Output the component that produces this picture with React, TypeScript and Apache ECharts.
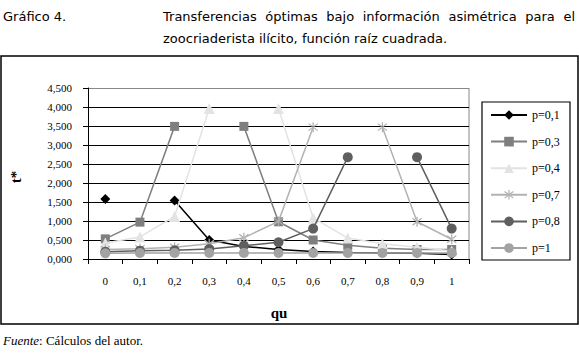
import React, { useEffect, useRef } from 'react';
import * as echarts from 'echarts';

const categories = ['0', '0,1', '0,2', '0,3', '0,4', '0,5', '0,6', '0,7', '0,8', '0,9', '1'];
const seriesNames = ['p=0,1', 'p=0,3', 'p=0,4', 'p=0,7', 'p=0,8', 'p=1'];
const p01 = [1.58, null, 1.54, 0.5, 0.33, 0.25, 0.2, 0.17, 0.16, 0.15, 0.12];
const p03 = [0.53, 0.97, 3.49, null, 3.49, 0.98, 0.5, 0.36, 0.28, 0.25, 0.25];
const p04 = [0.42, 0.58, 1.12, 3.96, null, 3.96, 1.08, 0.55, 0.4, 0.31, 0.21];
const p07 = [0.25, 0.27, 0.31, 0.4, 0.56, 0.99, 3.47, null, 3.47, 0.98, 0.52];
const p08 = [0.19, 0.22, 0.23, 0.26, 0.35, 0.44, 0.8, 2.68, null, 2.68, 0.8];
const p1 = [0.15, 0.16, 0.16, 0.16, 0.16, 0.16, 0.16, 0.16, 0.16, 0.16, 0.16];
const yTicks = [0, 0.5, 1, 1.5, 2, 2.5, 3, 3.5, 4, 4.5];

const titleLabel = 'Gráfico 4.';
const titleLine1 = 'Transferencias óptimas bajo información asimétrica para el';
const titleLine2 = 'zoocriaderista ilícito, función raíz cuadrada.';

const STAR =
  'path://M-0.6,-5L0.6,-5L0.6,5L-0.6,5Z' +
  'M-4.68,-3.03L3.92,3.97L4.68,3.03L-3.92,-3.97Z' +
  'M-3.92,3.97L4.68,-3.03L3.92,-3.97L-4.68,3.03Z';

export default function App() {
  const ref = useRef<HTMLDivElement>(null);
  useEffect(() => {
    if (!ref.current) return;
    const chart = echarts.init(ref.current, null, { renderer: 'svg' });
    const titleFont = '"DejaVu Sans", sans-serif';
    const fs = 13;
    const X0 = 163;
    const X1 = 575;
    const ctx = document.createElement('canvas').getContext('2d')!;
    ctx.font = `${fs}px ${titleFont}`;
    const words = titleLine1.split(' ');
    const widths = words.map((w) => ctx.measureText(w).width);
    const total = widths.reduce((a, b) => a + b, 0);
    const gap = (X1 - X0 - total) / (words.length - 1);
    let cx = X0;
    const wordEls: any[] = words.map((w, i) => {
      const el = {
        type: 'text',
        x: cx,
        y: 16,
        style: { text: w, font: `${fs}px ${titleFont}`, fill: '#000', textVerticalAlign: 'middle' },
      };
      cx += widths[i] + gap;
      return el;
    });

    const serif = '"Liberation Serif", "Times New Roman", serif';
    const colors = ['#000000', '#7f7f7f', '#e3e3e3', '#b2b2b2', '#5f5f5f', '#a3a3a3'];
    const symbols = ['diamond', 'rect', 'triangle', STAR, 'circle', 'circle'];
    const sizes = [10, 9, 11, 10, 10, 10];
    const datasets = [p01, p03, p04, p07, p08, p1];

    const splitColors = yTicks.map((_, i) => (i === yTicks.length - 1 ? '#888888' : '#000000'));

    chart.setOption({
      animation: false,
      grid: { left: 88, right: 110, top: 88, bottom: 98 },
      xAxis: {
        type: 'category',
        data: categories,
        boundaryGap: true,
        axisLine: { lineStyle: { color: '#000', width: 1 } },
        axisTick: { show: true, length: 5, lineStyle: { color: '#000' } },
        axisLabel: { fontFamily: serif, fontSize: 11, color: '#000', margin: 16 },
      },
      yAxis: {
        type: 'value',
        min: 0,
        max: 4.5,
        interval: 0.5,
        axisLine: { show: true, lineStyle: { color: '#000', width: 1 } },
        axisTick: { show: true, length: 5, lineStyle: { color: '#000' } },
        axisLabel: {
          fontFamily: serif,
          fontSize: 11,
          color: '#000',
          margin: 16,
          formatter: (v: number) => v.toFixed(3).replace('.', ','),
        },
        splitLine: { show: true, lineStyle: { color: splitColors, width: 1 } },
      },
      legend: {
        orient: 'vertical',
        left: 490,
        top: 109,
        padding: 0,
        itemWidth: 36,
        itemHeight: 12,
        itemGap: 14.6,
        data: seriesNames,
        textStyle: { fontFamily: serif, fontSize: 12, color: '#000', lineHeight: 12 },
      },
      series: seriesNames.map((name, i) => ({
        name,
        type: 'line',
        data: datasets[i],
        symbol: symbols[i],
        symbolSize: sizes[i],
        connectNulls: false,
        lineStyle: { color: colors[i], width: 1.5 },
        itemStyle: { color: colors[i] },
        z: 2 + i,
      })),
      graphic: [
        {
          type: 'rect',
          shape: { x: 1, y: 56, width: 577, height: 268 },
          style: { fill: 'none', stroke: '#000', lineWidth: 1.5 },
          silent: true,
        },
        {
          type: 'rect',
          shape: { x: 482, y: 102, width: 88, height: 158 },
          style: { fill: 'none', stroke: '#000', lineWidth: 1.2 },
          silent: true,
        },
        {
          type: 'line',
          shape: { x1: 469, y1: 88, x2: 469, y2: 259 },
          style: { stroke: '#888', lineWidth: 1 },
          silent: true,
        },
        {
          type: 'text',
          x: 3,
          y: 16,
          style: { text: titleLabel, font: `${fs}px ${titleFont}`, fill: '#000', textVerticalAlign: 'middle' },
        },
        ...wordEls,
        {
          type: 'text',
          x: X0,
          y: 38,
          style: { text: titleLine2, font: `${fs}px ${titleFont}`, fill: '#000', textVerticalAlign: 'middle' },
        },
        {
          type: 'text',
          x: 16,
          y: 177,
          rotation: Math.PI / 2,
          style: {
            text: 't*',
            font: `bold 15px ${serif}`,
            fill: '#000',
            textAlign: 'center',
            textVerticalAlign: 'middle',
          },
        },
        {
          type: 'text',
          x: 279,
          y: 313,
          style: {
            text: 'qu',
            font: `bold 15px ${serif}`,
            fill: '#000',
            textAlign: 'center',
            textVerticalAlign: 'middle',
          },
        },
        {
          type: 'text',
          x: 3,
          y: 340,
          style: {
            text: '{i|Fuente}: Cálculos del autor.',
            font: `13px ${serif}`,
            fill: '#000',
            textVerticalAlign: 'middle',
            rich: { i: { fontStyle: 'italic', fontFamily: serif, fontSize: 13 } },
          },
        },
      ],
    });
    return () => chart.dispose();
  }, []);
  return (
    <div
      ref={ref}
      style={{ position: 'absolute', left: 0, top: 0, width: 579, height: 357, background: '#fff' }}
    />
  );
}
